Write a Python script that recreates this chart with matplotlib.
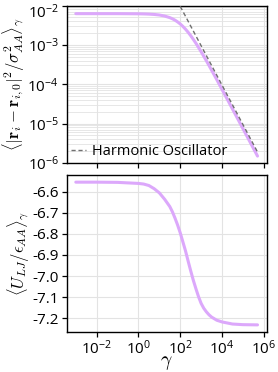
import numpy as np
import matplotlib
matplotlib.use("Agg")
import matplotlib.pyplot as plt
import matplotlib.transforms as mtransforms
from matplotlib.ticker import FixedLocator, NullLocator, LogLocator, NullFormatter

plt.rcParams['font.family'] = ['Open Sans', 'DejaVu Sans']
plt.rcParams['mathtext.fontset'] = 'cm'

# === DATOS ===
gamma = [1e-3, 1e-2, 1e-1, 1.0, 1.78, 3.16, 5.62, 10.0, 17.8, 31.6, 42.2,
         56.2, 75.0, 100.0, 133.0, 178.0, 237.0, 316.0, 422.0, 562.0, 750.0,
         1000.0, 1334.0, 1778.0, 2371.0, 3162.0, 5623.0, 1.0e4, 3.16e4,
         1.0e5, 5.0e5]
msd = [6.21e-3, 6.21e-3, 6.21e-3, 6.16e-3, 6.12e-3, 6.05e-3, 5.93e-3,
       5.74e-3, 5.41e-3, 4.92e-3, 4.60e-3, 4.24e-3, 3.83e-3, 3.40e-3,
       2.95e-3, 2.51e-3, 2.10e-3, 1.72e-3, 1.38e-3, 1.10e-3, 8.61e-4,
       6.69e-4, 5.16e-4, 3.95e-4, 3.01e-4, 2.28e-4, 1.31e-4, 7.41e-5,
       2.36e-5, 7.49e-6, 1.50e-6]
energy = [-6.554, -6.554, -6.555, -6.560, -6.563, -6.570, -6.585, -6.605,
          -6.635, -6.670, -6.695, -6.725, -6.758, -6.795, -6.837, -6.880,
          -6.928, -6.975, -7.020, -7.060, -7.098, -7.130, -7.153, -7.170,
          -7.184, -7.195, -7.210, -7.218, -7.228, -7.231, -7.232]

ho_gamma = [1e2, 5e5]
ho_msd = [9.5e-3, 1.9e-6]

xticks = [1e-2, 1e0, 1e2, 1e4, 1e6]
yticks_top = [1e-6, 1e-5, 1e-4, 1e-3, 1e-2]
yticks_bot = [-6.6, -6.7, -6.8, -6.9, -7.0, -7.1, -7.2]

line_color = '#dca8fb'
grid_color = '#e3e3e3'

# === FIGURA ===
fig = plt.figure(figsize=(2.78, 3.72), dpi=100)
ax1 = fig.add_axes([0.240, 0.5618, 0.719, 0.4234])
ax2 = fig.add_axes([0.240, 0.1075, 0.719, 0.4220], sharex=ax1)

ax1.plot(gamma, msd, color=line_color, lw=2.2, solid_capstyle='round', zorder=3)
ax1.plot(ho_gamma, ho_msd, color='#707070', lw=1.0, ls=(0, (3, 2)),
         label='Harmonic Oscillator', zorder=4)
ax1.set_xscale('log')
ax1.set_yscale('log')
ax1.set_ylim(1e-6, 1e-2)
ax1.yaxis.set_major_locator(FixedLocator(yticks_top))
ax1.yaxis.set_minor_locator(LogLocator(base=10, subs=np.arange(2, 10)))
ax1.yaxis.set_minor_formatter(NullFormatter())
ax1.set_yticklabels([r'$\mathregular{10^{%d}}$' % int(np.log10(t)) for t in yticks_top])
ax1.grid(True, which='major', color=grid_color, lw=0.8)
ax1.grid(True, which='minor', axis='y', color=grid_color, lw=0.6)
ax1.tick_params(axis='x', labelbottom=False)
ax1.set_ylabel(r'$\langle|\mathbf{r}_i-\mathbf{r}_{i,0}|^2/\sigma_{AA}^2\rangle_\gamma$',
               fontsize=12, labelpad=1)
ax1.legend(loc='lower left', frameon=False, fontsize=10.5, handlelength=1.0,
           handletextpad=0.4, borderaxespad=0.1, borderpad=0.2)

ax2.plot(gamma, energy, color=line_color, lw=2.2, solid_capstyle='round', zorder=3)
ax2.set_yticks(yticks_bot)
ax2.set_yticklabels(['%.1f' % t for t in yticks_bot])
ax2.grid(True, which='major', color=grid_color, lw=0.8)
ax2.set_ylabel(r'$\langle U_{LJ}/\epsilon_{AA}\rangle_\gamma$', fontsize=12, labelpad=1)
ax2.set_xlabel(r'$\gamma$', fontsize=14, labelpad=-3)

ax2.xaxis.set_major_locator(FixedLocator(xticks))
ax2.xaxis.set_minor_locator(NullLocator())
ax2.set_xticklabels([r'$\mathregular{10^{%d}}$' % int(np.log10(t)) for t in xticks])

for ax in (ax1, ax2):
    ax.set_axisbelow(True)
    ax.tick_params(which='major', direction='out', length=3.5, width=0.9,
                   labelsize=11, pad=2)
    ax.tick_params(which='minor', length=0)
    for s in ax.spines.values():
        s.set_linewidth(1.0)
        s.set_color('black')

# bajar la etiqueta 10^-2 para que no se corte arriba
shift = mtransforms.ScaledTranslation(0, -4 / 72, fig.dpi_scale_trans)
top_lbl = ax1.yaxis.get_major_ticks()[-1].label1
top_lbl.set_transform(top_lbl.get_transform() + shift)

plt.savefig('out.png', dpi=100)
